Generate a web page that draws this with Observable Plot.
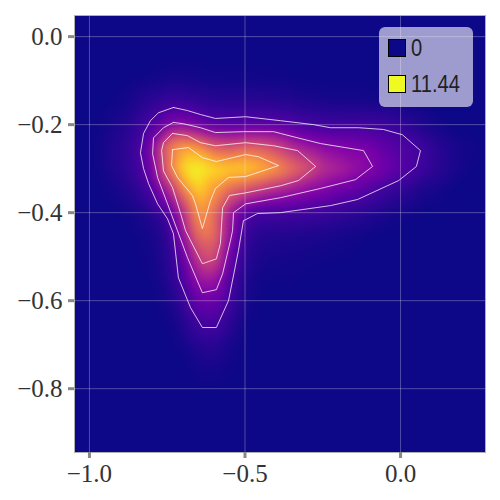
<!DOCTYPE html>
<html>
<head>
<meta charset="utf-8">
<script src="https://cdn.jsdelivr.net/npm/d3@7"></script>
<script src="https://cdn.jsdelivr.net/npm/@observablehq/plot@0.6"></script>
<style>
html,body{margin:0;padding:0;background:#fff}
#wrap{position:relative;width:500px;height:500px;overflow:hidden}
#legend{position:absolute;left:379px;top:27px;width:94px;height:80px;border-radius:6px;background:rgba(255,255,255,.6);font-family:"Liberation Sans",sans-serif;font-size:24px;color:#222}
.sw{position:absolute;left:9px;width:16px;height:16px;border:1.5px solid #000}
.lb{position:absolute;left:32px;line-height:24px;transform:scaleX(.84);transform-origin:left center}
</style>
</head>
<body>
<div id="wrap"><div id="legend"></div></div>
<script>
const xGrid = [-1.05,-1,-.95,-.9,-.85,-.8,-.75,-.7,-.65,-.6,-.55,-.5,-.45,-.4,-.35,-.3,-.25,-.2,-.15,-.1,-.05,0,.05,.1,.15,.2,.25,.3];
const yGrid = [.05,0,-.05,-.1,-.15,-.2,-.25,-.3,-.35,-.4,-.45,-.5,-.55,-.6,-.65,-.7,-.75,-.8,-.85,-.9,-.95];
const density = [
[0,0,0,0,0,0,0,0,0,0,0,0,0,0,0,0,0,0,0,0,0,0,0,0,0,0,0,0],
[0,0,0,0,0,0,0,0,0,0,0,0,0,0,0,0,0,0,0,0,0,0,0,0,0,0,0,0],
[0,0,0,0,0,0,.01,.02,.02,.01,.01,.01,.01,.01,.01,0,0,0,0,0,0,0,0,0,0,0,0,0],
[0,0,0,.01,.05,.12,.2,.24,.18,.12,.11,.11,.11,.09,.06,.05,.03,.02,.02,.02,.01,.01,0,0,0,0,0,0],
[0,0,.03,.09,.3,.66,.96,.96,.72,.57,.54,.54,.54,.48,.39,.3,.24,.18,.18,.15,.12,.06,.03,0,0,0,0,0],
[0,.02,.12,.3,.78,1.56,2.82,3.14,2.37,1.74,1.65,1.74,1.74,1.74,1.56,1.2,1.08,1.02,1.08,1.08,1.02,.78,.42,.18,.06,.02,0,0],
[0,.03,.18,.54,1.02,2.91,7.52,9.01,8.5,6.54,6.12,6.68,6.54,5.7,4.62,3.81,3.27,3,2.82,2.64,2.01,1.56,1.29,.72,.36,.12,.06,0],
[0,.03,.18,.48,.96,2.46,7.1,10.64,11.44,10.64,10.3,10.38,9.6,8.67,7.38,6.26,4.86,4.35,3.68,3.14,2.46,1.83,1.29,.72,.36,.12,.03,0],
[0,0,.06,.24,.54,1.29,3.95,7.66,10.47,8.67,6.82,5.98,5.16,4.35,3.81,3.27,2.91,2.28,2.01,1.47,1.02,.66,.36,.18,.06,0,0,0],
[0,0,0,.06,.15,.42,1.29,4.62,8.84,7.24,3.95,1.56,1.2,1.2,1.14,1.05,.93,.78,.6,.42,.27,.15,.06,.03,0,0,0,0],
[0,0,0,0,.06,.18,.66,3.54,7.38,7.38,3.54,.84,.45,.39,.36,.3,.24,.18,.12,.06,.03,0,0,0,0,0,0,0],
[0,0,0,0,.03,.12,.48,2.1,5.57,6.26,2.28,.54,.21,.18,.15,.12,.09,.06,.03,0,0,0,0,0,0,0,0,0],
[0,0,0,0,0,.06,.36,1.47,3.81,3.95,1.56,.3,.09,.06,.06,.03,0,0,0,0,0,0,0,0,0,0,0,0],
[0,0,0,0,0,.03,.18,.84,2.28,2.37,1.14,.18,.03,0,0,0,0,0,0,0,0,0,0,0,0,0,0,0],
[0,0,0,0,0,0,.06,.36,1.14,1.38,.54,.06,0,0,0,0,0,0,0,0,0,0,0,0,0,0,0,0],
[0,0,0,0,0,0,.02,.12,.48,.54,.18,.02,0,0,0,0,0,0,0,0,0,0,0,0,0,0,0,0],
[0,0,0,0,0,0,0,.03,.15,.18,.06,0,0,0,0,0,0,0,0,0,0,0,0,0,0,0,0,0],
[0,0,0,0,0,0,0,0,.03,.03,0,0,0,0,0,0,0,0,0,0,0,0,0,0,0,0,0,0],
[0,0,0,0,0,0,0,0,0,0,0,0,0,0,0,0,0,0,0,0,0,0,0,0,0,0,0,0],
[0,0,0,0,0,0,0,0,0,0,0,0,0,0,0,0,0,0,0,0,0,0,0,0,0,0,0,0],
[0,0,0,0,0,0,0,0,0,0,0,0,0,0,0,0,0,0,0,0,0,0,0,0,0,0,0,0]
];
const contour1X = [-.730,-.685,-.643,-.595,-.498,-.386,-.280,-.225,-.135,-.055,.006,.064,.051,-.006,-.138,-.225,-.386,-.460,-.498,-.505,-.521,-.553,-.592,-.637,-.675,-.714,-.730,-.749,-.781,-.810,-.826,-.836,-.826,-.804,-.778,-.730];
const contour1Y = [-.161,-.168,-.177,-.186,-.182,-.191,-.200,-.207,-.207,-.211,-.223,-.259,-.295,-.327,-.370,-.384,-.400,-.402,-.416,-.418,-.486,-.600,-.661,-.661,-.616,-.548,-.448,-.414,-.380,-.334,-.300,-.264,-.220,-.191,-.173,-.161];
const contour2X = [-.730,-.698,-.643,-.595,-.505,-.408,-.386,-.331,-.257,-.119,-.090,-.145,-.257,-.386,-.498,-.537,-.540,-.547,-.572,-.592,-.637,-.685,-.717,-.749,-.781,-.797,-.794,-.762,-.730];
const contour2Y = [-.195,-.198,-.207,-.218,-.216,-.216,-.220,-.230,-.243,-.259,-.295,-.325,-.345,-.366,-.380,-.400,-.441,-.464,-.539,-.575,-.582,-.502,-.441,-.380,-.320,-.266,-.230,-.207,-.195];
const contour3X = [-.733,-.685,-.643,-.595,-.498,-.408,-.331,-.273,-.328,-.386,-.498,-.550,-.572,-.579,-.592,-.637,-.691,-.707,-.733,-.762,-.768,-.762,-.733];
const contour3Y = [-.220,-.225,-.241,-.248,-.241,-.248,-.259,-.295,-.327,-.339,-.355,-.361,-.389,-.470,-.505,-.516,-.441,-.402,-.343,-.305,-.259,-.241,-.220];
const contour4X = [-.733,-.682,-.637,-.592,-.498,-.457,-.392,-.498,-.553,-.595,-.611,-.637,-.659,-.669,-.717,-.736,-.733];
const contour4Y = [-.257,-.252,-.275,-.284,-.268,-.273,-.293,-.318,-.320,-.345,-.373,-.436,-.380,-.361,-.320,-.293,-.257];
const xTicks = [-1,-.5,0];
const yTicks = [0,-.2,-.4,-.6,-.8];
const legendItems = ["0","11.44"];
const colorMax = 11.44;

const cells = yGrid.flatMap((y,i)=>xGrid.map((x,j)=>({x,y,v:density[i][j]})));
const contours = [[contour1X,contour1Y],[contour2X,contour2Y],[contour3X,contour3Y],[contour4X,contour4Y]]
  .flatMap(([xs,ys],k)=>xs.map((x,i)=>({x,y:ys[i],k})));
const color = d3.scaleSequential(d3.interpolatePlasma).domain([0,colorMax]);
const tickFont = {fontFamily:"Liberation Serif",fontSize:25,fill:"#333"};

const chart = Plot.plot({
  width:500,height:500,marginLeft:74,marginRight:15,marginTop:15,marginBottom:48,
  style:{background:"#fff",overflow:"visible"},
  x:{domain:[-1.048,.273]},
  y:{domain:[-.945,.048]},
  color:{type:"linear",scheme:"plasma",domain:[0,colorMax]},
  marks:[
    Plot.raster(cells,{x:"x",y:"y",fill:"v",interpolate:"barycentric",pixelSize:2,blur:2}),
    Plot.gridX(xTicks,{stroke:"#fff",strokeOpacity:.28,strokeWidth:1}),
    Plot.gridY(yTicks,{stroke:"#fff",strokeOpacity:.28,strokeWidth:1}),
    Plot.line(contours,{x:"x",y:"y",z:"k",stroke:"#fff",strokeOpacity:.75,strokeWidth:1,curve:"linear"}),
    Plot.frame({stroke:"#b0b0b0",strokeWidth:1}),
    Plot.axisX(xTicks,{tickSize:6,tickPadding:6,stroke:"#888",strokeWidth:3,strokeOpacity:1,tickFormat:d3.format(".1f"),label:null,...tickFont}),
    Plot.axisY(yTicks,{tickSize:6,tickPadding:6,stroke:"#888",strokeWidth:3,strokeOpacity:1,tickFormat:d3.format(".1f"),label:null,...tickFont})
  ]
});
const wrap=document.getElementById("wrap");
wrap.insertBefore(chart,wrap.firstChild);
const lg=document.getElementById("legend");
legendItems.forEach((t,i)=>{
  const s=document.createElement("div");s.className="sw";s.style.top=(12+36*i)+"px";
  s.style.background=color(+t);lg.appendChild(s);
  const l=document.createElement("div");l.className="lb";l.style.top=(9+36*i)+"px";l.textContent=t;lg.appendChild(l);
});
</script>
</body>
</html>
